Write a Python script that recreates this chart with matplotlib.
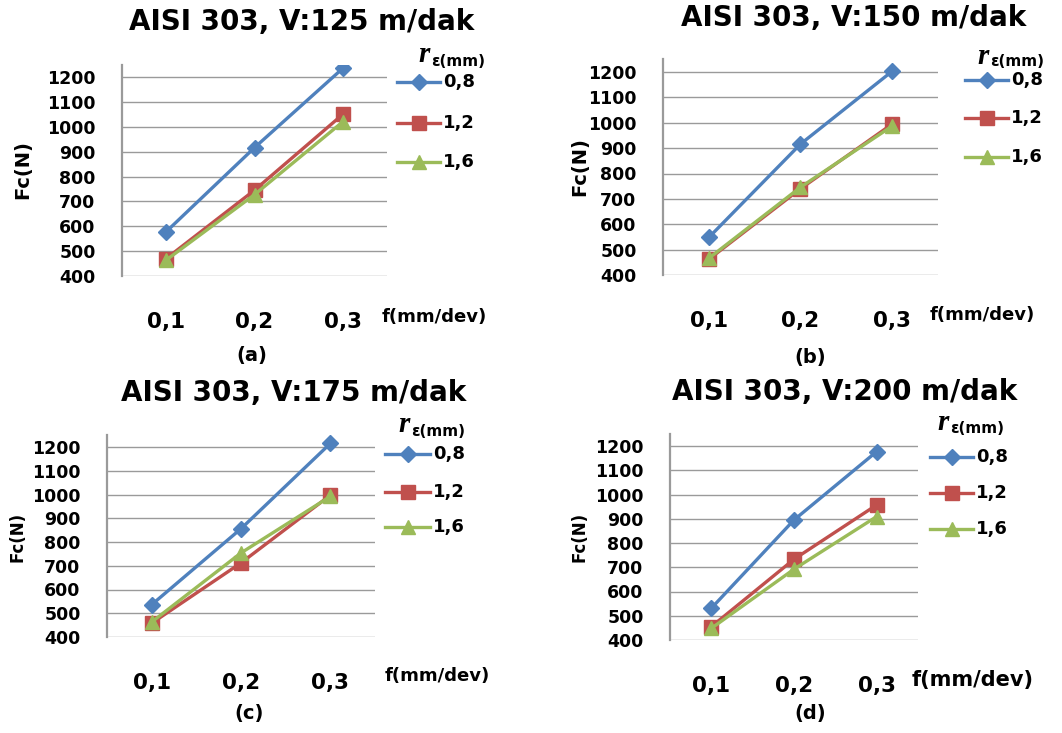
import matplotlib
matplotlib.use("Agg")
import matplotlib.pyplot as plt
from matplotlib.lines import Line2D

W, H = 1062, 733

# Categories and series labels
feeds = ["0,1", "0,2", "0,3"]
radii = ["0,8", "1,2", "1,6"]
speeds = [125, 150, 175, 200]
panel_tags = ["(a)", "(b)", "(c)", "(d)"]

# Cutting force Fc (N) for each cutting speed and nose radius
fc_125_r08 = [578, 916, 1235]
fc_125_r12 = [470, 745, 1050]
fc_125_r16 = [464, 727, 1020]

fc_150_r08 = [548, 916, 1203]
fc_150_r12 = [462, 740, 995]
fc_150_r16 = [466, 746, 987]

fc_175_r08 = [536, 856, 1215]
fc_175_r12 = [458, 712, 997]
fc_175_r16 = [463, 754, 992]

fc_200_r08 = [531, 895, 1177]
fc_200_r12 = [455, 733, 957]
fc_200_r16 = [448, 692, 909]

series_by_panel = [
    [fc_125_r08, fc_125_r12, fc_125_r16],
    [fc_150_r08, fc_150_r12, fc_150_r16],
    [fc_175_r08, fc_175_r12, fc_175_r16],
    [fc_200_r08, fc_200_r12, fc_200_r16],
]

yticks = list(range(400, 1201, 100))

colors = ["#4F81BD", "#C0504D", "#9BBB59"]
markers = ["D", "s", "^"]
msizes = [8.0, 9.5, 10.0]

# Layout in pixels: plot left, right, y of 400, y of 1200
geom = [
    (122, 387, 276, 77),
    (663, 938, 275, 72),
    (107, 375, 637, 447),
    (670, 918, 640, 446),
]
title_pos = [(302, 22), (854, 18), (294, 393), (845, 392)]
tag_pos = [(252, 355), (810, 357), (249, 713), (810, 713)]
ylab_pos = [(23, 170), (580, 167), (18, 537), (580, 537)]
ylab_size = [14, 14, 12, 12]
xname_pos = [(382, 317), (930, 315), (385, 676), (912, 680)]
xname_size = [13, 13, 13, 15]
leg_line_x = [(397, 440), (965, 1008), (385, 430), (930, 973)]
leg_rows = [(82, 123, 162), (80, 118, 157), (454, 492, 527), (457, 493, 529)]
leg_title_x = [418, 977, 398, 937]
leg_title_y = [55, 56, 425, 423]


def fx(x):
    return x / W


def fy(y):
    return 1 - y / H


fig = plt.figure(figsize=(W / 100, H / 100), dpi=100)
fig.patch.set_facecolor("white")

grid_color = "#9A9A9A"

for i in range(4):
    left, right, y400, y1200 = geom[i]
    per100 = (y400 - y1200) / 8.0
    ytop = y1200 - per100 / 2.0
    ax = fig.add_axes([fx(left), fy(y400), (right - left) / W, (y400 - ytop) / H])
    ax.set_facecolor("white")
    xs = list(range(len(feeds)))
    for vals, c, m, ms in zip(series_by_panel[i], colors, markers, msizes):
        ax.plot(xs, vals, color=c, lw=2.4, marker=m, ms=ms,
                markerfacecolor=c, markeredgecolor=c, zorder=3,
                solid_capstyle="round")
    ax.set_xlim(-0.5, len(feeds) - 0.5)
    ax.set_ylim(400, 1250)
    ax.set_yticks(yticks)
    ax.set_yticklabels([str(v) for v in yticks], fontsize=12.5, fontweight="bold")
    ax.set_xticks(xs)
    ax.set_xticklabels(feeds, fontsize=15.5, fontweight="bold")
    ax.tick_params(axis="y", length=0, pad=19)
    ax.tick_params(axis="x", length=0, pad=26)
    for v in yticks:
        ax.axhline(v, color=grid_color, lw=1.0, zorder=1)
    for s in ["top", "right", "bottom"]:
        ax.spines[s].set_visible(False)
    ax.spines["left"].set_color(grid_color)
    ax.spines["left"].set_linewidth(1.6)

    tx, ty = title_pos[i]
    fig.text(fx(tx), fy(ty), f"AISI 303, V:{speeds[i]} m/dak", ha="center",
             va="center", fontsize=20, fontweight="bold")
    gx, gy = tag_pos[i]
    fig.text(fx(gx), fy(gy), panel_tags[i], ha="center", va="center",
             fontsize=14, fontweight="bold")
    lx, ly = ylab_pos[i]
    fig.text(fx(lx), fy(ly), "Fc(N)", ha="center", va="center", rotation=90,
             fontsize=ylab_size[i], fontweight="bold")
    nx, ny = xname_pos[i]
    fig.text(fx(nx), fy(ny), "f(mm/dev)", ha="left", va="center",
             fontsize=xname_size[i], fontweight="bold")

    # legend
    x0, x1 = leg_line_x[i]
    for r, yy, c, m, ms in zip(radii, leg_rows[i], colors, markers, msizes):
        fig.add_artist(Line2D([fx(x0), fx(x1)], [fy(yy), fy(yy)], color=c,
                              lw=2.4, transform=fig.transFigure))
        fig.add_artist(Line2D([fx((x0 + x1) / 2)], [fy(yy)], color=c,
                              marker=m, ms=ms, markeredgecolor=c,
                              transform=fig.transFigure))
        fig.text(fx(x1 + 3), fy(yy), r, ha="left", va="center", fontsize=13,
                 fontweight="bold")
    rx = leg_title_x[i]
    ry = leg_title_y[i]
    fig.text(fx(rx), fy(ry), "r", ha="left", va="center", fontsize=21,
             fontweight="bold", style="italic", family="Liberation Serif")
    fig.text(fx(rx + 13), fy(ry + 6), "ε(mm)", ha="left", va="center",
             fontsize=11, fontweight="bold")

fig.savefig("out.png", dpi=100, facecolor="white")
